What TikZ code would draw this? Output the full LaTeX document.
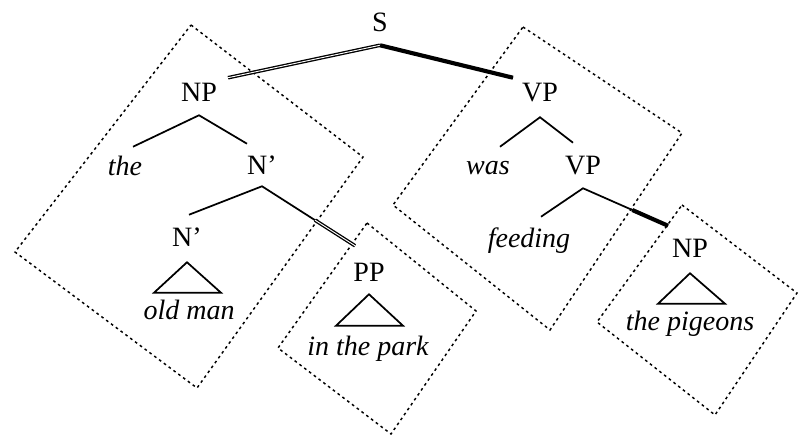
\documentclass[tikz,border=0pt]{standalone}
\usepackage{fontspec}
\setmainfont{Liberation Serif}[ItalicFont={Liberation Serif Italic}]
\usetikzlibrary{calc}

\tikzset{
  cat/.style={inner sep=0pt, text height=13.5pt, text depth=0pt, font=\fontsize{21}{24}\selectfont},
  word/.style={cat, font=\fontsize{21}{24}\selectfont\itshape},
  branch/.style={line width=1.3pt},
  dbl/.style={double=white, double distance=0.7pt, line width=1pt},
  heavy/.style={double=black, double distance=0.5pt, line width=1.3pt},
  chunk/.style={line width=1.1pt, dash pattern=on 2pt off 2.5pt}
}

\begin{document}
\begin{tikzpicture}[x=0.75pt,y=0.75pt,yscale=-1,xscale=1]
\useasboundingbox (0,0) rectangle (803,435);
% labels
\node [cat] (S) at (380,23) {S};
\node [cat] (NP) at (199,92) {NP};
\node [cat] (VP) at (540,92) {VP};
\node [word] (the) at (125,166) {the};
\node [cat] (Na) at (262,165) {N'};
\node [word] (was) at (488,165) {was};
\node [cat] (VPb) at (583,165) {VP};
\node [cat] (Nb) at (187,237) {N'};
\node [word] (feeding) at (529,238) {feeding};
\node [cat] (PP) at (369,272) {PP};
\node [cat] (NPb) at (690,248) {NP};
\node [word] (oldman) at (189,310) {old man};
\node [word] (park) at (368,346) {in the park};
\node [word] (pigeons) at (690,321) {the pigeons};
% chunks
\draw [chunk] (191,25) -- (363,157) -- (197,388) -- (15,252) -- cycle;
\draw [chunk] (367,223) -- (476,311) -- (391,434) -- (278,348) -- cycle;
\draw [chunk] (523,27) -- (682,133) -- (550,330) -- (393,205) -- cycle;
\draw [chunk] (682,205) -- (797,293) -- (715,415) -- (597,322) -- cycle;
% branches
\coordinate (Sx) at ($(S.south)+(0,13)$);
\draw [dbl] (Sx) -- ($(NP.north)+(29,-5)$);
\draw [heavy] (Sx) -- ($(VP.north)+(-27,-5)$);
\draw [branch] ($(the.north)+(8,-10)$) -- ($(NP.south)+(0,14)$) -- ($(Na.north)+(-15,-12)$);
\draw [branch] ($(Nb.north)+(2,-13)$) -- ($(Na.south)+(0,12)$) -- ($(PP.north)+(-14,-17)$);
\draw [dbl] ($($(Na.south)+(0,12)$)!0.57!($(PP.north)+(-14,-17)$)$) -- ($(PP.north)+(-14,-17)$);
\draw [branch] ($(was.north)+(12,-9)$) -- ($(VP.south)+(0,16)$) -- ($(VPb.north)+(-10,-13)$);
\draw [branch] ($(feeding.north)+(12,-12)$) -- ($(VPb.south)+(0,14)$) -- ($(NPb.north)+(-22,-13)$);
\draw [heavy] ($($(VPb.south)+(0,14)$)!0.58!($(NPb.north)+(-22,-13)$)$) -- ($(NPb.north)+(-22,-13)$);
% roofs
\draw [branch] ($(Nb.south)+(0,16)$) -- ($(oldman.north)+(-35,-8)$) -- ($(oldman.north)+(32,-8)$) -- cycle;
\draw [branch] ($(PP.south)+(0,13)$) -- ($(park.north)+(-32,-11)$) -- ($(park.north)+(35,-11)$) -- cycle;
\draw [branch] ($(NPb.south)+(0,16)$) -- ($(pigeons.north)+(-32,-8)$) -- ($(pigeons.north)+(35,-8)$) -- cycle;
\end{tikzpicture}
\end{document}
